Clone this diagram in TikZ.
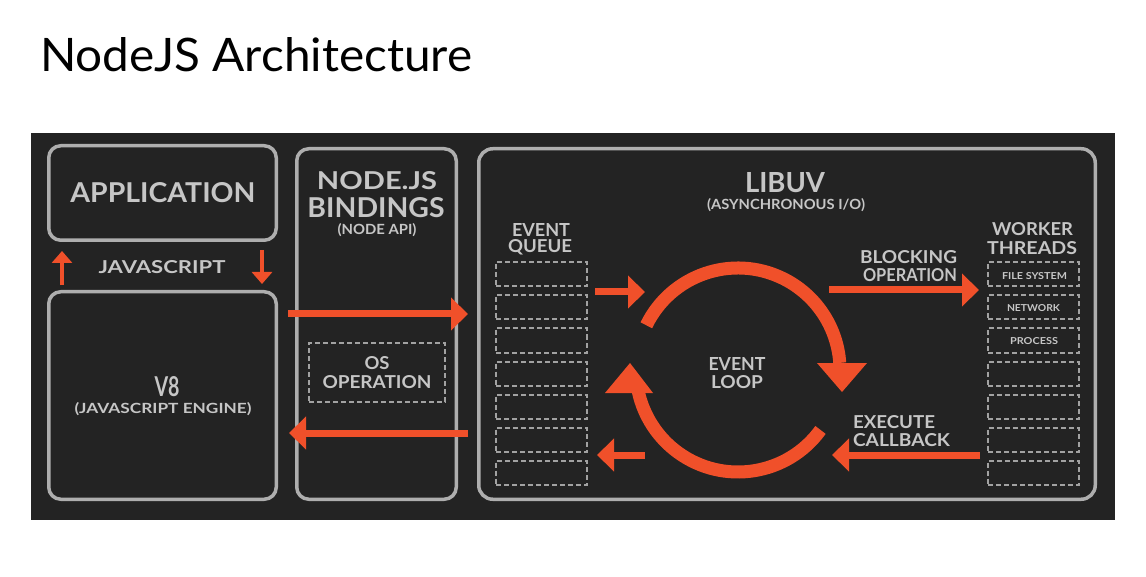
\documentclass[tikz,border=0pt]{standalone}
\usepackage{fontspec}
\setmainfont{Lato}
\usepackage{graphicx}
\usetikzlibrary{arrows.meta}
\definecolor{panel}{HTML}{232323}
\definecolor{boxline}{HTML}{AEAEAE}
\definecolor{txt}{HTML}{C6C6C6}
\definecolor{dashc}{HTML}{A2A2A2}
\definecolor{orng}{HTML}{F0502A}
\newcommand{\fwh}[3]{\resizebox{#1pt}{#2pt}{#3}}
\tikzset{
  box/.style={draw=boxline, line width=3.5pt, rounded corners=12pt, inner sep=0pt},
  dbox/.style={draw=dashc, line width=2pt, dash pattern=on 5pt off 3pt, inner sep=0pt},
  lbl/.style={text=txt, inner sep=0pt, font=\bfseries},
  bigarrow/.style={draw=orng, line width=7pt, -{Triangle[length=17pt,width=32pt]}},
  smallarrow/.style={draw=orng, line width=3.5pt, -{Triangle[length=12pt,width=20pt]}},
  loopline/.style={draw=orng, line width=13pt},
}
\begin{document}
\begin{tikzpicture}[x=1pt,y=-1pt]
\useasboundingbox (0,0) rectangle (1146,577);
\fill[white] (0,0) rectangle (1146,577);
\node[anchor=base west, inner sep=0pt, text=black] (title) at (40,72) {\fwh{432}{34}{NodeJS Architecture}};
\fill[panel] (31,133) rectangle (1115,520);

% boxes
\node[box, minimum width=227.5pt, minimum height=94.5pt] (app) at (162.5,193) {};
\node[box, minimum width=227.5pt, minimum height=207.5pt] (v8) at (162.5,395.5) {};
\node[box, minimum width=159.5pt, minimum height=350.5pt] (bind) at (376.5,324) {};
\node[box, minimum width=616.5pt, minimum height=350.5pt, rounded corners=14pt] (libuv) at (787,324) {};
\node[dbox, minimum width=136pt, minimum height=59pt] (osop) at (377,372.5) {};

% queue and worker cells
\foreach \i/\t in {1/262,2/295,3/328,4/361,5/394,6/427,7/460}{
  \node[dbox, minimum width=91pt, minimum height=24pt] (q\i) at (541.5,\t+12.5) {};
  \node[dbox, minimum width=91pt, minimum height=24pt] (w\i) at (1033.5,\t+12.5) {};
}

% labels
\node[lbl] (tapp) at (163,193) {\fwh{185}{20}{APPLICATION}};
\node[lbl] (tjs) at (162,267) {\fwh{127}{13}{JAVASCRIPT}};
\node[lbl] (tv8) at (167,387) {\fwh{25}{20}{V8}};
\node[lbl] (tv8b) at (163,409) {\fwh{177}{11}{(JAVASCRIPT ENGINE)}};
\node[lbl] (tnode) at (377,181) {\fwh{120}{18}{NODE.JS}};
\node[lbl] (tbind) at (376,208) {\fwh{137}{20}{BINDINGS}};
\node[lbl] (tapi) at (377,230) {\fwh{79}{11}{(NODE API)}};
\node[lbl] (tos) at (377,363) {\fwh{25}{13}{OS}};
\node[lbl] (tosop) at (377,382) {\fwh{109}{13}{OPERATION}};
\node[lbl] (tlib) at (785,183) {\fwh{80}{20}{LIBUV}};
\node[lbl] (tasync) at (786,205) {\fwh{158}{11}{(ASYNCHRONOUS I/O)}};
\node[lbl] (tev) at (541,230) {\fwh{58}{13}{EVENT}};
\node[lbl] (tqu) at (540,247) {\fwh{64}{13}{QUEUE}};
\node[lbl] (tel) at (737,364) {\fwh{57}{13}{EVENT}};
\node[lbl] (tlo) at (737,382) {\fwh{52}{13}{LOOP}};
\node[lbl] (tblk) at (908.5,257) {\fwh{97}{13}{BLOCKING}};
\node[lbl] (tblk2) at (910,275) {\fwh{94}{13}{OPERATION}};
\node[lbl] (twk) at (1032.5,229) {\fwh{81}{13}{WORKER}};
\node[lbl] (tthr) at (1032,248) {\fwh{90}{13}{THREADS}};
\node[lbl] (tfs) at (1034.5,276) {\fwh{65}{7}{FILE SYSTEM}};
\node[lbl] (tnet) at (1033.5,308) {\fwh{53}{7}{NETWORK}};
\node[lbl] (tproc) at (1034,341) {\fwh{48}{7}{PROCESS}};
\node[lbl] (texe) at (894,422) {\fwh{82}{13}{EXECUTE}};
\node[lbl] (tcb) at (901.5,440) {\fwh{97}{13}{CALLBACK}};

% arrow end points
\coordinate (a1s) at (288,314); \coordinate (a1e) at (468,314);
\coordinate (a2s) at (468,433); \coordinate (a2e) at (289,433);
\coordinate (a3s) at (595,292); \coordinate (a3e) at (645,292);
\coordinate (a4s) at (645,455); \coordinate (a4e) at (597,455);
\coordinate (a5s) at (829,290); \coordinate (a5e) at (979,290);
\coordinate (a6s) at (980,455); \coordinate (a6e) at (832,455);
\coordinate (ups) at (62,285); \coordinate (upe) at (62,251);
\coordinate (dns) at (262,250); \coordinate (dne) at (262,284);

\draw[bigarrow] (a1s) -- (a1e);
\draw[bigarrow] (a2s) -- (a2e);
\draw[bigarrow] (a3s) -- (a3e);
\draw[bigarrow] (a4s) -- (a4e);
\draw[bigarrow] (a5s) -- (a5e);
\draw[bigarrow] (a6s) -- (a6e);
\draw[smallarrow] (ups) -- (upe);
\draw[smallarrow] (dns) -- (dne);

% event loop
\coordinate (lc) at (738,370);
\draw[loopline] (lc) ++(-154:102) arc[start angle=-154, end angle=-4, radius=102];
\fill[orng] (817,363) -- (867,363) -- (842,392) -- cycle;
\draw[loopline] (lc) ++(36:102) arc[start angle=36, end angle=168, radius=102];
\fill[orng] (605,393) -- (653,393) -- (630,363) -- cycle;
\end{tikzpicture}
\end{document}
